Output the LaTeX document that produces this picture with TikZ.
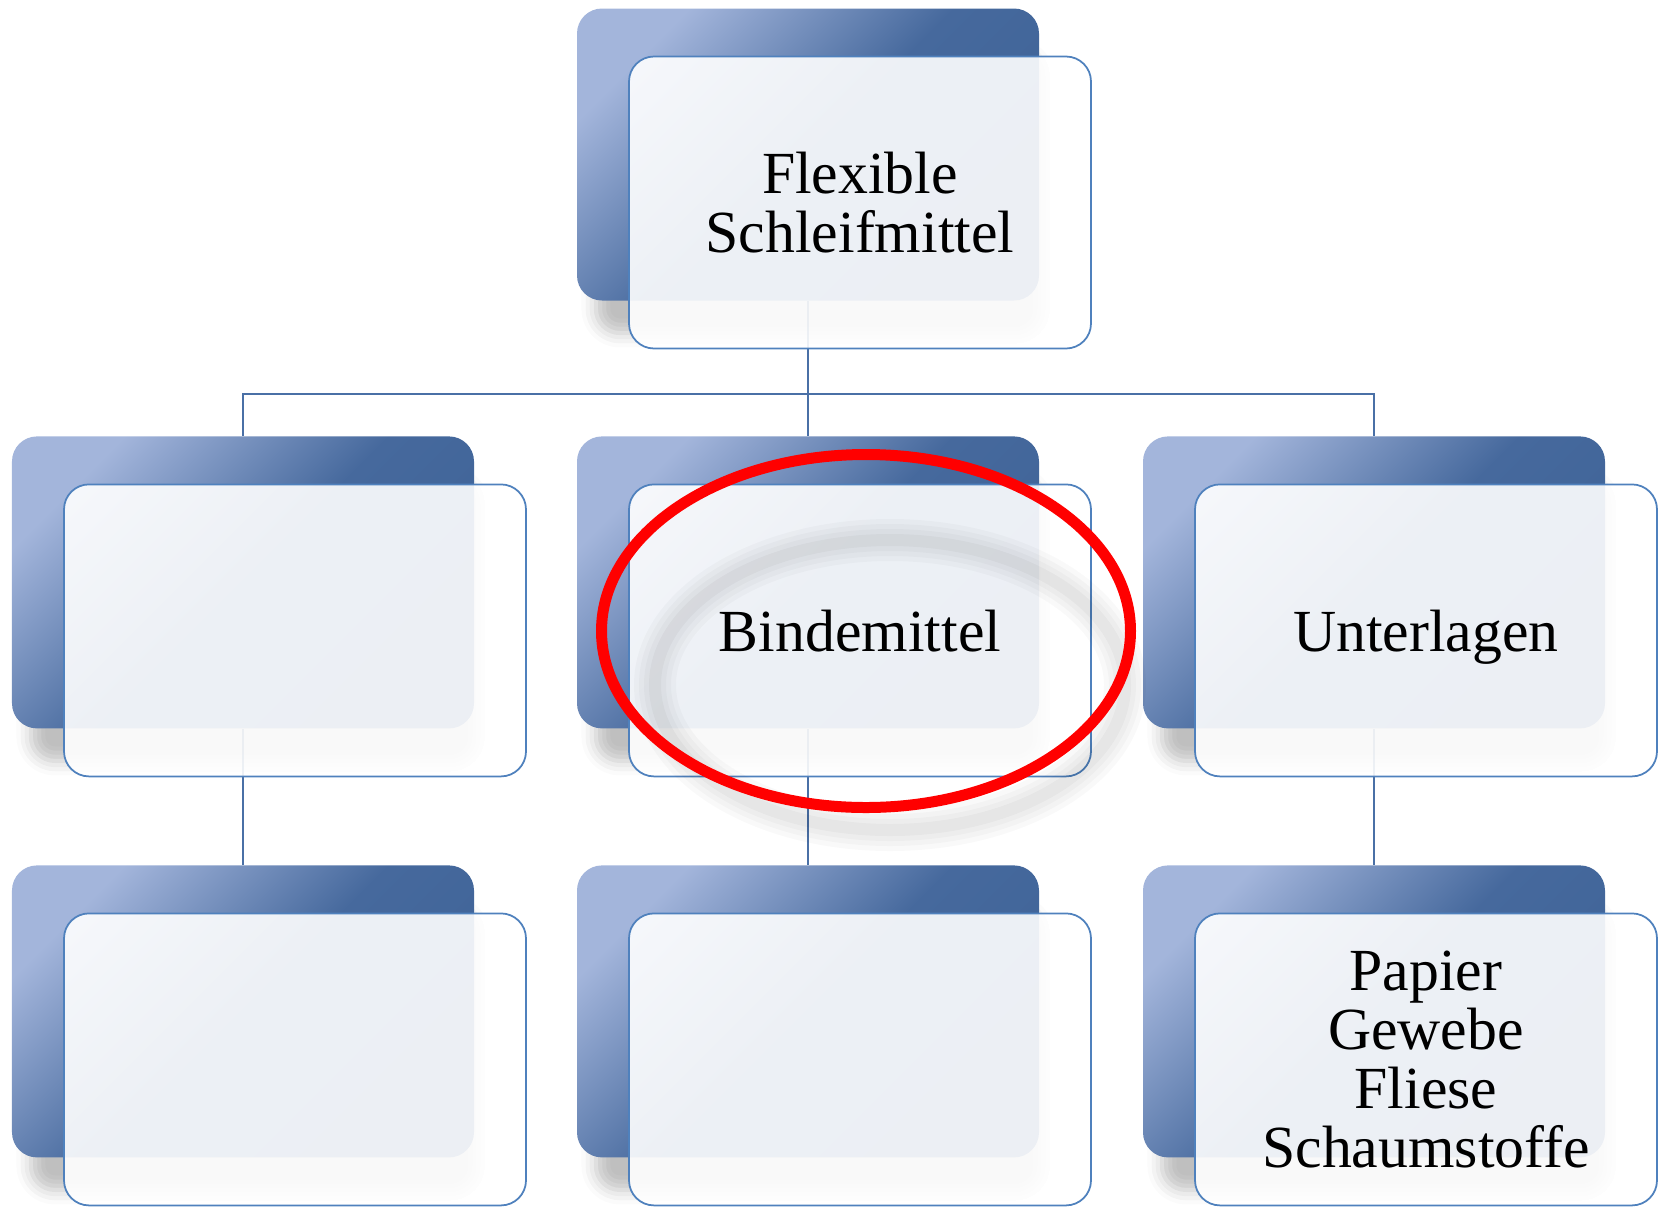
\documentclass[tikz,border=0pt]{standalone}
\usepackage{fontspec}
\setmainfont{Liberation Serif}
\usetikzlibrary{shadows.blur,backgrounds}
\definecolor{boxlight}{HTML}{A3B5DB}
\definecolor{boxmid}{HTML}{46699D}
\definecolor{boxdark}{HTML}{3E6397}
\definecolor{edgeblue}{HTML}{4F81BD}
\definecolor{linkblue}{HTML}{4A70A6}
\begin{document}
\begin{tikzpicture}[
    backbox/.style={rectangle, rounded corners=0.25cm, minimum width=4.62cm, minimum height=2.92cm, inner sep=0pt,
        top color=boxlight, bottom color=boxdark, middle color=boxmid, shading angle=45,
        blur shadow={shadow scale=0.96, shadow xshift=0.1cm, shadow yshift=-0.4cm, shadow blur radius=0.15cm, shadow opacity=25}},
    frontbox/.style={rectangle, rounded corners=0.25cm, minimum width=4.62cm, minimum height=2.92cm, inner sep=0pt,
        draw=edgeblue, line width=0.5pt, fill=white, fill opacity=0.9, text opacity=1, align=center, text depth=0pt,
        font=\fontsize{17}{16.8}\selectfont},
    link/.style={draw=linkblue, line width=0.5pt}]
        \useasboundingbox (0,0) rectangle (16.65,-12.06);
        \foreach \n/\x/\y/\txt in {top/8.08/-1.545/{Flexible\\Schleifmittel}, l1/2.43/-5.824/{}, c1/8.08/-5.824/{Bindemittel}, r1/13.74/-5.824/{Unterlagen}, l2/2.43/-10.114/{}, c2/8.08/-10.114/{}, r2/13.74/-10.114/{Papier\\Gewebe\\Fliese\\Schaumstoffe}}{
        \node[backbox] (\n-b) at (\x,\y) {};
        \node[frontbox] (\n) at ({\x+0.52},{\y-0.48}) {\txt};
        }
        \begin{pgfonlayer}{background}
        \coordinate (split) at (8.08,-3.94);
        \draw[link] (top-b.south) -- (c1-b.north);
        \draw[link] (l1-b.north) |- (split) -| (r1-b.north);
        \foreach \c in {l,c,r}{
        \draw[link] (\c1-b.south) -- (\c2-b.north);
        }
        \end{pgfonlayer}
        \foreach \w/\o in {0.42/0.025, 0.32/0.025, 0.22/0.025, 0.12/0.03}{
        \draw[black, line width=\w cm, draw opacity=\o] (8.9,-6.85) ellipse [x radius=2.35, y radius=1.45];
        }
        \draw[red, line width=0.11cm] (8.66,-6.31) ellipse [x radius=2.645, y radius=1.765];
    \end{tikzpicture}
\end{document}
